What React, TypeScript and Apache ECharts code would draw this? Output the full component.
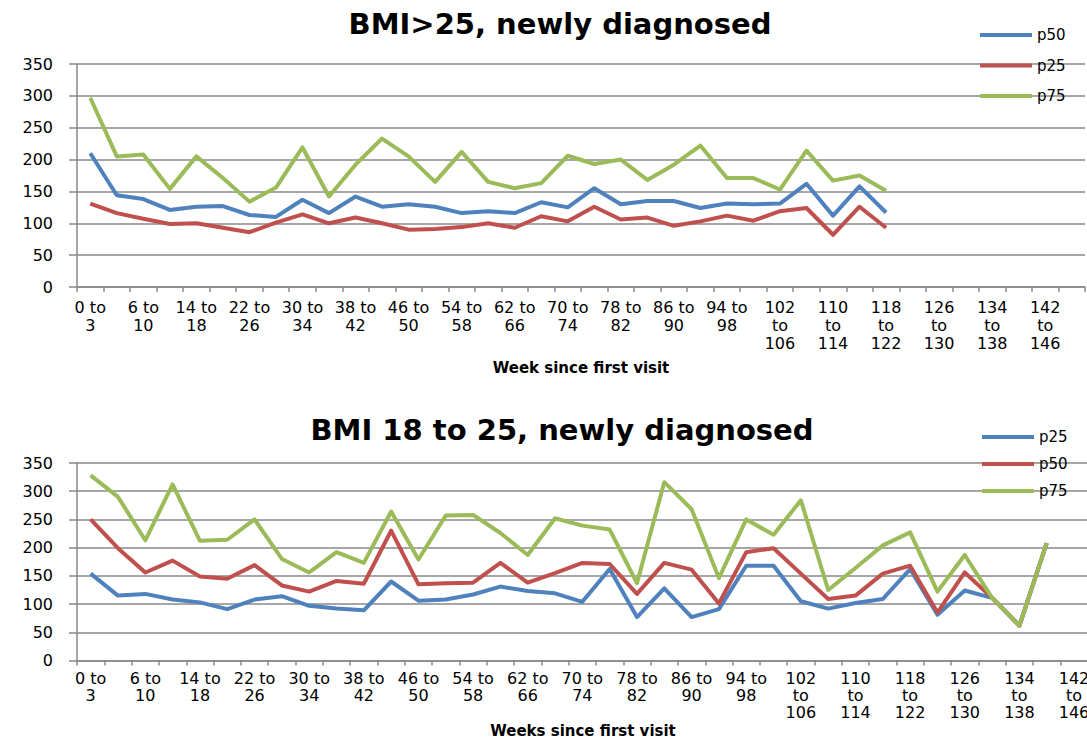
import React, { useEffect, useRef } from "react";
import * as echarts from "echarts";

// Week bins (x-axis categories), shared by both panels
const categories: string[] = [
  "0 to 3", "3 to 6", "6 to 10", "10 to 14", "14 to 18", "18 to 22", "22 to 26", "26 to 30",
  "30 to 34", "34 to 38", "38 to 42", "42 to 46", "46 to 50", "50 to 54", "54 to 58", "58 to 62",
  "62 to 66", "66 to 70", "70 to 74", "74 to 78", "78 to 82", "82 to 86", "86 to 90", "90 to 94",
  "94 to 98", "98 to 102", "102 to 106", "106 to 110", "110 to 114", "114 to 118", "118 to 122",
  "122 to 126", "126 to 130", "130 to 134", "134 to 138", "138 to 142", "142 to 146", "146 to 150",
];

const yTicks = { min: 0, max: 350, interval: 50 };

// Panel 1: BMI>25, newly diagnosed
const topTitle = "BMI>25, newly diagnosed";
const topAxisName = "Week since first visit";
const topLegend = ["p50", "p25", "p75"];
const topP50 = [210, 144, 138, 121, 126, 127, 113, 110, 137, 116, 142, 126, 130, 126, 116, 119, 116, 133, 125, 155, 130, 135, 135, 124, 131, 130, 131, 162, 112, 158, 117];
const topP25 = [131, 116, 107, 99, 100, 93, 86, 101, 114, 100, 109, 100, 90, 91, 94, 100, 93, 111, 103, 126, 106, 109, 96, 103, 112, 104, 119, 124, 82, 126, 93];
const topP75 = [297, 205, 208, 154, 205, 171, 134, 156, 219, 142, 192, 233, 205, 165, 212, 165, 155, 163, 206, 193, 200, 168, 192, 222, 171, 171, 153, 214, 167, 175, 151];

// Panel 2: BMI 18 to 25, newly diagnosed
const botTitle = "BMI 18 to 25, newly diagnosed";
const botAxisName = "Weeks since first visit";
const botLegend = ["p25", "p50", "p75"];
const botP25 = [154, 115, 118, 108, 103, 91, 108, 114, 97, 92, 89, 140, 106, 108, 117, 131, 123, 119, 104, 162, 77, 128, 77, 91, 168, 168, 105, 92, 102, 109, 162, 81, 124, 111, 62, 208];
const botP50 = [250, 199, 156, 177, 149, 145, 169, 133, 122, 141, 136, 230, 135, 137, 138, 173, 138, 155, 173, 171, 118, 173, 161, 101, 192, 199, 154, 109, 115, 154, 168, 85, 156, 111, 62, 208];
const botP75 = [328, 290, 213, 312, 212, 214, 250, 180, 156, 192, 173, 264, 179, 257, 258, 226, 187, 252, 239, 232, 137, 316, 268, 146, 250, 223, 284, 125, 164, 204, 227, 122, 187, 111, 62, 208];

const BLUE = "#4F81BD";
const RED = "#C0504D";
const GREEN = "#9BBB59";
const GRAY = "#898989";
const FONT = "DejaVu Sans";

function wrapLabel(v: string): string {
  const [a, b] = v.split(" to ");
  return a.length >= 3 ? `${a}\nto\n${b}` : `${a} to\n${b}`;
}

function xAxisFor(gridIndex: number, name: string, nameGap: number, margin: number, lineHeight: number, shift: number) {
  return {
    type: "category",
    gridIndex,
    data: categories,
    boundaryGap: true,
    name,
    nameLocation: "middle",
    nameGap,
    nameTextStyle: { fontFamily: FONT, fontWeight: "bold", fontSize: 15, color: "#000", padding: [0, shift, 0, 0] },
    axisLine: { show: true, lineStyle: { color: GRAY, width: 1.5 } },
    axisTick: { show: true, interval: 0, length: 5, lineStyle: { color: GRAY, width: 1.5 } },
    axisLabel: {
      interval: 1,
      fontFamily: FONT,
      fontSize: 16,
      lineHeight,
      color: "#000",
      margin,
      formatter: wrapLabel,
    },
    splitLine: { show: false },
  };
}

function yAxisFor(gridIndex: number) {
  return {
    type: "value",
    gridIndex,
    min: yTicks.min,
    max: yTicks.max,
    interval: yTicks.interval,
    axisLine: { show: true, lineStyle: { color: GRAY, width: 1.5 } },
    axisTick: { show: true, length: 8, lineStyle: { color: GRAY, width: 1.5 } },
    axisLabel: { fontFamily: FONT, fontSize: 16, color: "#000", margin: 24 },
    splitLine: { show: true, lineStyle: { color: GRAY, width: 1.5 } },
  };
}

function lineSeries(name: string, data: number[], color: string, axisIndex: number) {
  return {
    type: "line",
    name,
    data,
    xAxisIndex: axisIndex,
    yAxisIndex: axisIndex,
    symbol: "none",
    color,
    lineStyle: { color, width: 4, join: "round" },
  };
}

function legendFor(names: string[], colors: string[], left: number, top: number, itemGap: number) {
  return {
    orient: "vertical",
    left,
    top,
    padding: 0,
    itemGap,
    icon: "rect",
    itemWidth: 52,
    itemHeight: 4,
    textStyle: { fontFamily: FONT, fontSize: 15, lineHeight: 16, color: "#000" },
    data: names.map((n, i) => ({ name: n, itemStyle: { color: colors[i] }, lineStyle: { color: colors[i] } })),
    selectedMode: false,
  };
}

export default function App() {
  const ref = useRef<HTMLDivElement>(null);

  useEffect(() => {
    document.body.style.margin = "0";
    if (!ref.current) return;
    const chart = echarts.init(ref.current, undefined, { renderer: "svg" });
    chart.setOption({
      animation: false,
      backgroundColor: "#fff",
      title: [
        {
          text: topTitle,
          left: 560,
          top: 9,
          padding: 0,
          textAlign: "center",
          textStyle: { fontFamily: FONT, fontWeight: "bold", fontSize: 29, color: "#000" },
        },
        {
          text: botTitle,
          left: 562,
          top: 415,
          padding: 0,
          textAlign: "center",
          textStyle: { fontFamily: FONT, fontWeight: "bold", fontSize: 29, color: "#000" },
        },
      ],
      legend: [
        legendFor(topLegend, [BLUE, RED, GREEN], 980, 27, 14.5),
        legendFor(botLegend, [BLUE, RED, GREEN], 982, 429, 11),
      ],
      grid: [
        { left: 77, top: 64, width: 1008, height: 223, containLabel: false, outerBoundsMode: "none" },
        { left: 77, top: 463, width: 1038, height: 197.5, containLabel: false, outerBoundsMode: "none" },
      ],
      xAxis: [
        xAxisFor(0, topAxisName, 73, 11, 18, 0),
        xAxisFor(1, botAxisName, 63, 9, 17, 26),
      ],
      yAxis: [yAxisFor(0), yAxisFor(1)],
      series: [
        lineSeries("p50", topP50, BLUE, 0),
        lineSeries("p25", topP25, RED, 0),
        lineSeries("p75", topP75, GREEN, 0),
        lineSeries("p25", botP25, BLUE, 1),
        lineSeries("p50", botP50, RED, 1),
        lineSeries("p75", botP75, GREEN, 1),
      ],
    });
    return () => chart.dispose();
  }, []);

  return <div ref={ref} style={{ width: 1087, height: 740, overflow: "hidden" }} />;
}
